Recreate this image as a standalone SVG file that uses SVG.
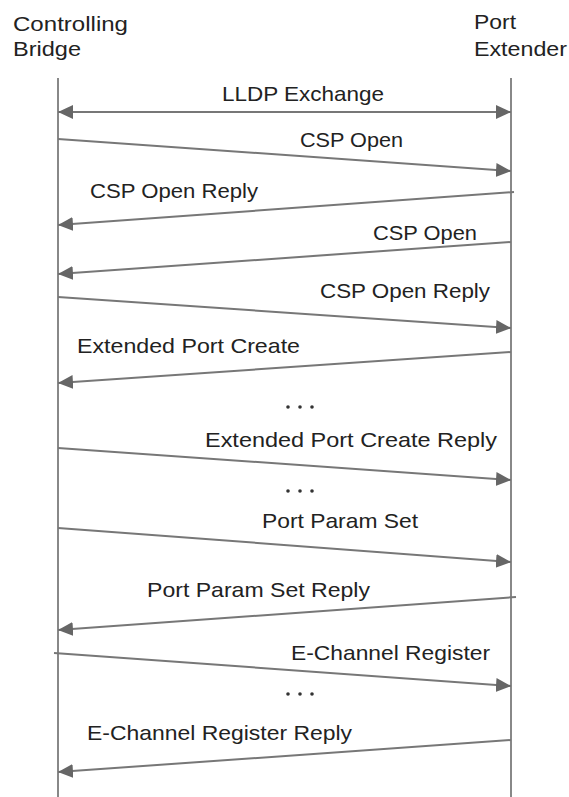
<svg xmlns="http://www.w3.org/2000/svg" width="569" height="797" viewBox="0 0 569 797">
<style>
text{font-family:"Liberation Sans",Arial,sans-serif;font-size:21px;fill:#222;}
.life{stroke:#888;stroke-width:2;fill:none;}
.msg{stroke:#777;stroke-width:2;fill:none;marker-end:url(#ah);}
.dots{fill:#333;}
</style>
<defs>
<marker id="ah" markerUnits="userSpaceOnUse" markerWidth="16" markerHeight="16" viewBox="0 0 16 16" refX="15" refY="8" orient="auto-start-reverse">
<path d="M0,1 L15,8 L0,15 Z" fill="#666"/>
</marker>
</defs>
<g id="controlling-bridge">
<text x="13" y="31" textLength="115" lengthAdjust="spacingAndGlyphs">Controlling</text>
<text x="13" y="56" textLength="68" lengthAdjust="spacingAndGlyphs">Bridge</text>
<line class="life" x1="58" y1="78" x2="58" y2="797"/>
</g>
<g id="port-extender">
<text x="474" y="29" textLength="42" lengthAdjust="spacingAndGlyphs">Port</text>
<text x="474" y="56" textLength="93" lengthAdjust="spacingAndGlyphs">Extender</text>
<line class="life" x1="511" y1="78" x2="511" y2="797"/>
</g>
<g id="connectors">
<line class="msg" x1="58" y1="112" x2="511" y2="112" style="marker-start:url(#ah)"/>
<line class="msg" x1="58" y1="139" x2="511" y2="171"/>
<line class="msg" x1="514" y1="192" x2="58" y2="225"/>
<line class="msg" x1="511" y1="242" x2="58" y2="274"/>
<line class="msg" x1="58" y1="297" x2="511" y2="328"/>
<line class="msg" x1="511" y1="352" x2="58" y2="383"/>
<line class="msg" x1="58" y1="448" x2="511" y2="480"/>
<line class="msg" x1="58" y1="528" x2="511" y2="562"/>
<line class="msg" x1="516" y1="597" x2="58" y2="630"/>
<line class="msg" x1="54" y1="653" x2="511" y2="686"/>
<line class="msg" x1="511" y1="740" x2="58" y2="772"/>
</g>
<g id="labels">
<text x="222" y="101" textLength="162" lengthAdjust="spacingAndGlyphs">LLDP Exchange</text>
<text x="300" y="147" textLength="103" lengthAdjust="spacingAndGlyphs">CSP Open</text>
<text x="90" y="198" textLength="168" lengthAdjust="spacingAndGlyphs">CSP Open Reply</text>
<text x="373" y="240" textLength="104" lengthAdjust="spacingAndGlyphs">CSP Open</text>
<text x="320" y="298" textLength="170" lengthAdjust="spacingAndGlyphs">CSP Open Reply</text>
<text x="77" y="353" textLength="223" lengthAdjust="spacingAndGlyphs">Extended Port Create</text>
<text x="205" y="447" textLength="292" lengthAdjust="spacingAndGlyphs">Extended Port Create Reply</text>
<text x="262" y="528" textLength="156" lengthAdjust="spacingAndGlyphs">Port Param Set</text>
<text x="147" y="597" textLength="223" lengthAdjust="spacingAndGlyphs">Port Param Set Reply</text>
<text x="291" y="660" textLength="199" lengthAdjust="spacingAndGlyphs">E-Channel Register</text>
<text x="87" y="740" textLength="265" lengthAdjust="spacingAndGlyphs">E-Channel Register Reply</text>
</g>
<g id="ellipses" class="dots">
<circle cx="288" cy="407" r="1.8"/><circle cx="300" cy="407" r="1.8"/><circle cx="312" cy="407" r="1.8"/>
<circle cx="288" cy="491" r="1.8"/><circle cx="300" cy="491" r="1.8"/><circle cx="312" cy="491" r="1.8"/>
<circle cx="288" cy="694" r="1.8"/><circle cx="300" cy="694" r="1.8"/><circle cx="312" cy="694" r="1.8"/>
</g>
</svg>
